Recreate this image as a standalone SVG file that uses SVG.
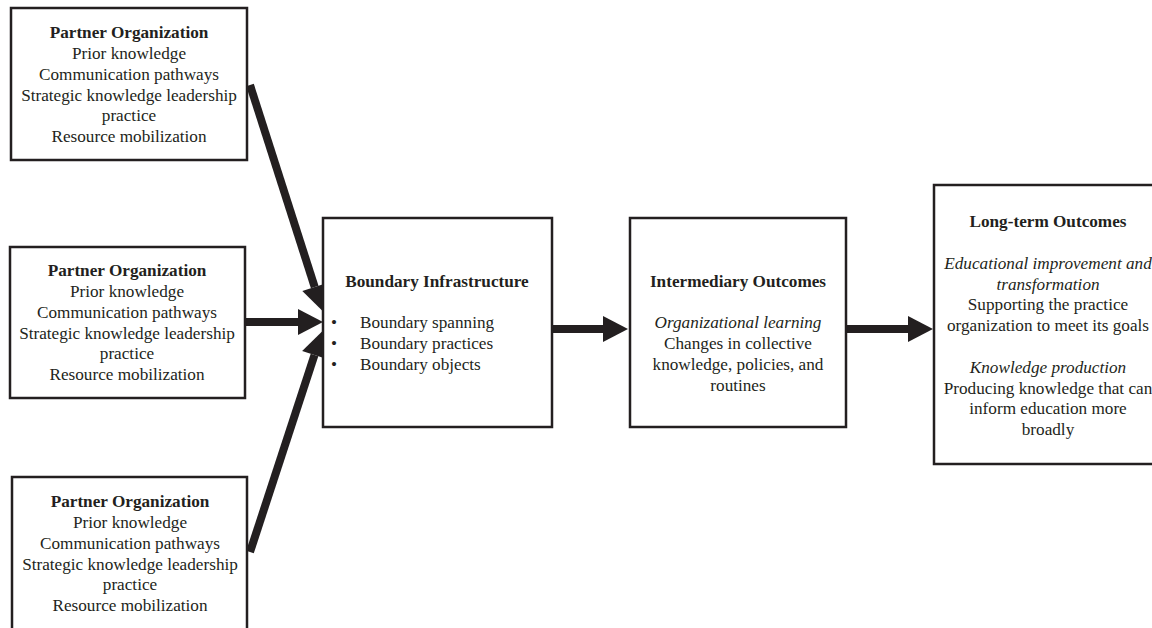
<svg xmlns="http://www.w3.org/2000/svg" width="1152" height="628" viewBox="0 0 1152 628">
<style>
.box{fill:#fff;stroke:#231f20;stroke-width:2.5}
text{font-family:"Liberation Serif","Times New Roman",serif;font-size:17.2px;fill:#231f20}
.c{text-anchor:middle}
.b{font-weight:bold}
.i{font-style:italic}
.conn{stroke:#231f20;stroke-width:8;fill:none;marker-end:url(#ah)}
</style>
<defs>
<marker id="ah" markerUnits="userSpaceOnUse" markerWidth="25" markerHeight="27" refX="0" refY="13" orient="auto" overflow="visible">
<path d="M0,0 L25,13 L0,26 z" fill="#231f20"/>
</marker>
</defs>
<rect width="1152" height="628" fill="#fff"/>
<g id="connectors">
<line class="conn" x1="250" y1="85" x2="314.7" y2="287"/>
<line class="conn" x1="245" y1="322" x2="298" y2="322"/>
<line class="conn" x1="250" y1="552" x2="314.5" y2="355"/>
<line class="conn" x1="552" y1="329" x2="603" y2="329"/>
<line class="conn" x1="846" y1="329" x2="908" y2="329"/>
</g>
<g id="partner1">
<rect class="box" x="11" y="8" width="236" height="152"/>
<text class="c b" x="129" y="38">Partner Organization</text>
<text class="c" x="129" y="59">Prior knowledge</text>
<text class="c" x="129" y="80">Communication pathways</text>
<text class="c" x="129" y="101">Strategic knowledge leadership</text>
<text class="c" x="129" y="121">practice</text>
<text class="c" x="129" y="142">Resource mobilization</text>
</g>
<g id="partner2">
<rect class="box" x="10" y="247" width="235" height="151"/>
<text class="c b" x="127" y="276">Partner Organization</text>
<text class="c" x="127" y="297">Prior knowledge</text>
<text class="c" x="127" y="318">Communication pathways</text>
<text class="c" x="127" y="339">Strategic knowledge leadership</text>
<text class="c" x="127" y="359">practice</text>
<text class="c" x="127" y="380">Resource mobilization</text>
</g>
<g id="partner3">
<rect class="box" x="12" y="477" width="235" height="165"/>
<text class="c b" x="130" y="507">Partner Organization</text>
<text class="c" x="130" y="528">Prior knowledge</text>
<text class="c" x="130" y="549">Communication pathways</text>
<text class="c" x="130" y="570">Strategic knowledge leadership</text>
<text class="c" x="130" y="590">practice</text>
<text class="c" x="130" y="611">Resource mobilization</text>
</g>
<g id="boundary">
<rect class="box" x="323" y="218" width="229" height="209"/>
<text class="c b" x="437" y="287">Boundary Infrastructure</text>
<text x="331" y="328">•</text>
<text x="360" y="328">Boundary spanning</text>
<text x="331" y="349">•</text>
<text x="360" y="349">Boundary practices</text>
<text x="331" y="370">•</text>
<text x="360" y="370">Boundary objects</text>
</g>
<g id="intermediary">
<rect class="box" x="630" y="218" width="216" height="209"/>
<text class="c b" x="738" y="287">Intermediary Outcomes</text>
<text class="c i" x="738" y="328">Organizational learning</text>
<text class="c" x="738" y="349">Changes in collective</text>
<text class="c" x="738" y="370">knowledge, policies, and</text>
<text class="c" x="738" y="391">routines</text>
</g>
<g id="longterm">
<rect class="box" x="934" y="185" width="240" height="279"/>
<text class="c b" x="1048" y="227">Long-term Outcomes</text>
<text class="c i" x="1048" y="269">Educational improvement and</text>
<text class="c i" x="1048" y="290">transformation</text>
<text class="c" x="1048" y="310">Supporting the practice</text>
<text class="c" x="1048" y="331">organization to meet its goals</text>
<text class="c i" x="1048" y="373">Knowledge production</text>
<text class="c" x="1048" y="394">Producing knowledge that can</text>
<text class="c" x="1048" y="414">inform education more</text>
<text class="c" x="1048" y="435">broadly</text>
</g>
</svg>
